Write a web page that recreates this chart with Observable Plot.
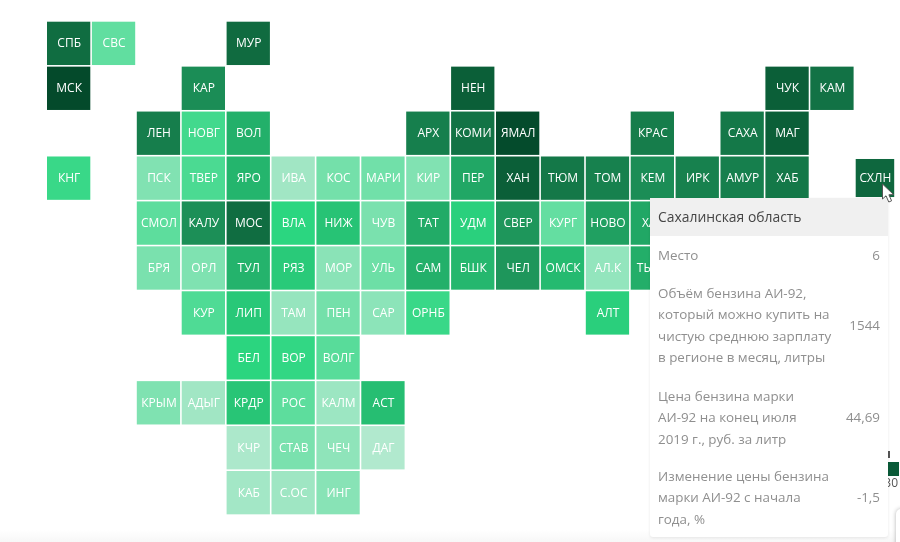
<!DOCTYPE html>
<html lang="ru"><head><meta charset="utf-8">
<script src="https://cdn.jsdelivr.net/npm/d3@7"></script>
<script src="https://cdn.jsdelivr.net/npm/@observablehq/plot@0.6"></script>
<style>
html,body{margin:0;padding:0;background:#fff;width:900px;height:542px;overflow:hidden;font-family:"Open Sans",sans-serif}
#wrap{position:relative;width:900px;height:542px;overflow:hidden;filter:blur(.35px)}
#chart svg{display:block;position:absolute;left:0;top:0;background:transparent}
#fade{position:absolute;left:0;right:0;top:530px;height:12px;background:linear-gradient(#fff,#f7f7f7)}
#card{position:absolute;left:896px;top:509px;width:30px;height:60px;background:#fff;border-radius:5px;box-shadow:0 0 4px rgba(0,0,0,.3)}
#swatch{position:absolute;left:888px;top:462px;width:11px;height:14px;background:#0a5a38}
#tick{position:absolute;left:888px;top:451px;width:1.5px;height:7px;background:#555}
#lab{position:absolute;left:880px;top:475px;width:18px;text-align:right;font-size:12px;color:#555;line-height:16px}
#tip{position:absolute;left:650px;top:198px;width:238px;height:339px;background:#fff;box-shadow:0 1px 3px rgba(0,0,0,.09);border-radius:0 0 3px 3px;color:#8f8f8f;font-size:13.4px;line-height:21.3px}
#tip .h{position:absolute;left:0;top:0;width:100%;height:38px;background:#f0f0f0;color:#454545;font-size:13.9px;line-height:38px;text-indent:8px}
#tip .l{position:absolute;left:8px;width:178px;white-space:nowrap}
#tip .v{position:absolute;right:8px;text-align:right}
#cursor{position:absolute;left:881px;top:183px}
</style></head><body>
<div id="wrap"><div id="fade"></div><div id="card"></div>
<div id="tick"></div><div id="swatch"></div><div id="lab">30</div>
<div id="chart"></div>
<div id="tip"><div class="h">Сахалинская область</div>
<div class="l" style="top:47px">Место</div><div class="v" style="top:47px">6</div>
<div class="l" style="top:85px">Объём бензина АИ-92,<br>который можно купить на<br>чистую среднюю зарплату<br>в регионе в месяц, литры</div><div class="v" style="top:117px">1544</div>
<div class="l" style="top:188px">Цена бензина марки<br>АИ-92 на конец июля<br>2019 г., руб. за литр</div><div class="v" style="top:209px">44,69</div>
<div class="l" style="top:268px">Изменение цены бензина<br>марки АИ-92 с начала<br>года, %</div><div class="v" style="top:289px">-1,5</div>
</div>
<svg id="cursor" width="16" height="22" viewBox="0 0 16 22"><path d="M1.5 1 L1.5 16 L5 12.8 L7.8 19 L10.6 17.8 L7.9 11.8 L12.6 11.6 Z" fill="#fff" stroke="#555" stroke-width="1"/></svg>
</div>
<script>
const labels = ["СПБ","СВС","МУР","МСК","КАР","НЕН","ЧУК","КАМ","ЛЕН","НОВГ","ВОЛ","АРХ","КОМИ","ЯМАЛ","КРАС","САХА","МАГ","КНГ","ПСК","ТВЕР","ЯРО","ИВА","КОС","МАРИ","КИР","ПЕР","ХАН","ТЮМ","ТОМ","КЕМ","ИРК","АМУР","ХАБ","СХЛН","СМОЛ","КАЛУ","МОС","ВЛА","НИЖ","ЧУВ","ТАТ","УДМ","СВЕР","КУРГ","НОВО","ХАК","БРЯ","ОРЛ","ТУЛ","РЯЗ","МОР","УЛЬ","САМ","БШК","ЧЕЛ","ОМСК","АЛ.К","ТЫВА","КУР","ЛИП","ТАМ","ПЕН","САР","ОРНБ","АЛТ","БЕЛ","ВОР","ВОЛГ","КРЫМ","АДЫГ","КРДР","РОС","КАЛМ","АСТ","КЧР","СТАВ","ЧЕЧ","ДАГ","КАБ","С.ОС","ИНГ"];
const columns = [0,1,4,0,3,9,16,17,2,3,4,8,9,10,13,15,16,0,2,3,4,5,6,7,8,9,10,11,12,13,14,15,16,18,2,3,4,5,6,7,8,9,10,11,12,13,2,3,4,5,6,7,8,9,10,11,12,13,3,4,5,6,7,8,12,4,5,6,2,3,4,5,6,7,4,5,6,7,4,5,6];
const rows = [0,0,0,1,1,1,1,1,2,2,2,2,2,2,2,2,2,3,3,3,3,3,3,3,3,3,3,3,3,3,3,3,3,3,4,4,4,4,4,4,4,4,4,4,4,4,5,5,5,5,5,5,5,5,5,5,5,5,6,6,6,6,6,6,6,7,7,7,8,8,8,8,8,8,9,9,9,9,10,10,10];
const litres = [1500,780,1510,1800,1220,1620,1620,1450,1350,850,1060,1340,1440,1790,1360,1400,1620,870,710,830,1040,640,740,745,710,1100,1620,1400,1320,1220,1320,1340,1400,1544,790,1200,1500,900,980,725,1080,925,1170,775,1130,1100,725,715,1050,950,690,755,1060,1030,1170,1020,670,1070,820,960,665,740,685,870,930,905,885,800,715,640,970,790,650,1000,615,725,680,605,635,645,695];
const colorStops = [600,900,1200,1800];
const colorRange = ["#b3e9cf","#2bd680","#1c8f57","#044a2b"];
const table = labels.map((label,i)=>({label,col:columns[i],row:rows[i],v:litres[i]}));
const hovered = "СХЛН";
const isH = d=>d.label===hovered;
const fontFamily = '"Open Sans",sans-serif';
const plot = Plot.plot({
  width:900,height:542,margin:0,
  style:{background:"transparent"},
  x:{type:"band",domain:d3.range(19),range:[47,47+44.9*19-1.6],paddingInner:1.6/44.9,paddingOuter:0,align:0,round:false,axis:null},
  y:{type:"band",domain:d3.range(11),range:[21.7,21.7+44.93*11-1.6],paddingInner:1.6/44.93,paddingOuter:0,align:0,round:false,axis:null},
  color:{type:"linear",domain:colorStops,range:colorRange,interpolate:"rgb"},
  marks:[
    Plot.cell(table.filter(d=>!isH(d)),{x:"col",y:"row",fill:"v"}),
    Plot.cell(table.filter(isH),{x:"col",y:"row",fill:"v",insetLeft:0.5,insetRight:4.3,insetTop:2.5,insetBottom:2.8}),
    Plot.text(table.filter(d=>!isH(d)),{x:"col",y:"row",text:"label",fill:"#fff",fontSize:12,fontWeight:500,fontFamily,dy:-0.3}),
    Plot.text(table.filter(isH),{x:"col",y:"row",text:"label",fill:"#fff",fontSize:12,fontWeight:500,fontFamily,dx:-2,dy:-0.8})
  ]
});
document.getElementById("chart").append(plot);
</script></body></html>
